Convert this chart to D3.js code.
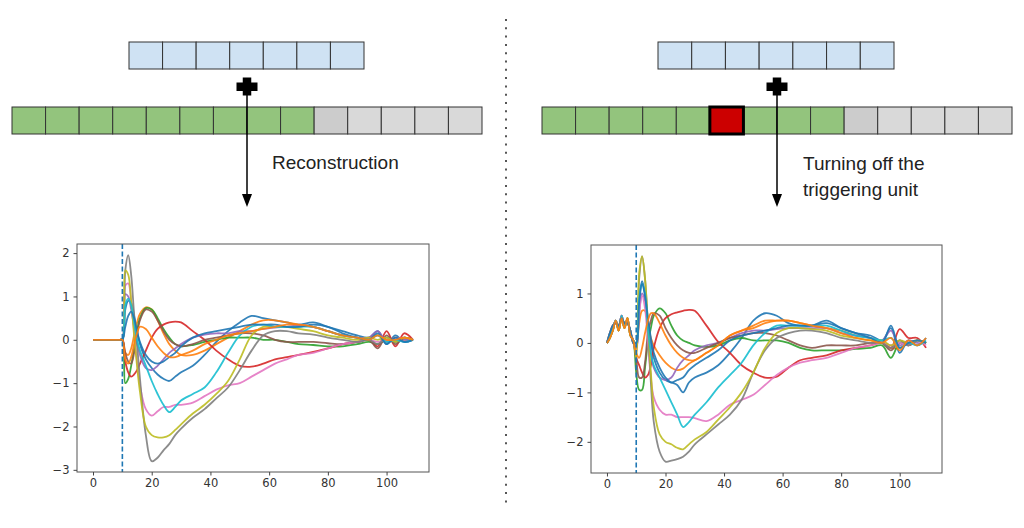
<!DOCTYPE html>
<html><head><meta charset="utf-8">
<script src="https://cdn.jsdelivr.net/npm/d3@7"></script>
<style>
body{margin:0;background:#fff;}
svg{display:block;font-family:"Liberation Sans",Arial,sans-serif;}
</style>
</head><body>
<svg id="c" width="1024" height="528"></svg>
<script>
// ---------- DATA ----------
const seriesColors = ["#1f77b4","#ff7f0e","#2ca02c","#d62728","#9467bd","#8c564b","#e377c2","#7f7f7f","#bcbd22","#17becf","#1f77b4","#ff7f0e"];

const xTicks = [0,20,40,60,80,100];
const reconYTicks = [-3,-2,-1,0,1,2];
const trigYTicks = [-2,-1,0,1];
const triggerX = 10;

// Left chart (Reconstruction) time steps
const reconSteps = [0,9,10,11,12,13,14,15,16,18,20,22,24,26,28,30,34,38,42,46,50,54,58,62,66,70,75,80,85,90,94,97,100,103,106,109];
const reconBlueA  = [0,0,0,0.7,0.9,0.85,0.55,0.2,-0.1,-0.45,-0.65,-0.8,-0.9,-0.95,-0.85,-0.75,-0.6,-0.35,-0.05,0.2,0.4,0.55,0.5,0.45,0.4,0.35,0.4,0.3,0.2,0.1,0.05,0.2,-0.1,0.1,-0.05,0];
const reconOrangeA= [0,0,0,-0.3,-0.35,-0.2,0.1,0.4,0.6,0.75,0.7,0.45,0.15,-0.1,-0.25,-0.35,-0.35,-0.25,-0.1,0.05,0.2,0.35,0.45,0.45,0.4,0.35,0.3,0.2,0.1,0.05,0.05,0.1,-0.05,0.05,0,0];
const reconGreen  = [0,0,0,-1.0,-0.9,-0.6,-0.2,0.2,0.5,0.73,0.7,0.5,0.25,0.05,-0.1,-0.15,-0.12,-0.05,0,0.05,0.05,0.05,0,0,-0.05,-0.1,-0.12,-0.15,-0.15,-0.1,-0.05,-0.1,0,-0.05,0.05,0];
const reconRed    = [0,0,0,-0.5,-0.75,-0.85,-0.8,-0.7,-0.55,-0.25,0.05,0.25,0.35,0.4,0.42,0.4,0.2,0,-0.25,-0.45,-0.6,-0.62,-0.55,-0.45,-0.4,-0.35,-0.28,-0.2,-0.1,-0.05,0,-0.15,0.2,-0.15,0.15,0];
const reconPurple = [0,0,0,1.05,1.0,0.7,0.3,-0.05,-0.35,-0.65,-0.7,-0.6,-0.45,-0.3,-0.2,-0.1,0.05,0.12,0.15,0.15,0.2,0.2,0.25,0.28,0.3,0.33,0.3,0.2,0.1,0.05,0.05,0.2,-0.05,0.05,0,0];
const reconBrown  = [0,0,0,-0.3,-0.5,-0.55,-0.3,0.1,0.45,0.7,0.65,0.45,0.2,0,-0.1,-0.15,-0.1,0,0.05,0.1,0.15,0.15,0.1,0,-0.05,-0.05,-0.05,-0.08,-0.1,-0.05,0,-0.2,0.1,-0.1,0.05,0];
const reconPink   = [0,0,0,1.25,1.3,0.9,0.2,-0.5,-1.05,-1.6,-1.75,-1.65,-1.55,-1.55,-1.5,-1.5,-1.45,-1.3,-1.15,-1.05,-1.0,-0.85,-0.7,-0.55,-0.45,-0.35,-0.3,-0.2,-0.1,-0.05,0,-0.05,0,0,0.05,0];
const reconGray   = [0,0,0,1.6,1.95,1.5,0.6,-0.1,-0.9,-2.2,-2.8,-2.72,-2.55,-2.4,-2.2,-2.05,-1.8,-1.6,-1.35,-1.1,-0.7,-0.25,0.1,0.2,0.2,0.15,0.12,0.05,0,-0.05,0,-0.1,0.05,-0.05,0.05,0];
const reconOlive  = [0,0,0,1.6,1.5,0.9,0.1,-0.6,-1.2,-2.0,-2.2,-2.25,-2.25,-2.2,-2.08,-1.95,-1.7,-1.5,-1.25,-0.95,-0.45,0.1,0.3,0.3,0.3,0.25,0.2,0.1,0.05,0,0.05,0,0.05,-0.05,0.05,0];
const reconCyan   = [0,0,0,0.8,0.95,0.8,0.4,0,-0.25,-0.6,-0.95,-1.25,-1.5,-1.67,-1.55,-1.4,-1.25,-1.1,-0.75,-0.3,0.1,0.3,0.35,0.3,0.3,0.3,0.3,0.2,0.1,0.05,0,0.1,-0.05,0,-0.05,0];
const reconBlueB  = [0,0,0,0.3,0.55,0.65,0.5,0.2,-0.05,-0.35,-0.5,-0.55,-0.5,-0.4,-0.3,-0.15,0.05,0.15,0.2,0.25,0.3,0.35,0.35,0.35,0.3,0.3,0.35,0.3,0.15,0.05,0,0.15,-0.1,0.05,-0.05,0];
const reconOrangeB= [0,0,0,-0.45,-0.55,-0.4,-0.1,0.15,0.3,0.25,0.05,-0.15,-0.3,-0.4,-0.4,-0.35,-0.25,-0.1,0,0.1,0.15,0.2,0.25,0.3,0.35,0.35,0.3,0.2,0.1,0.05,0,0.1,0,0,0.05,0];
const reconSeries = [reconBlueA,reconOrangeA,reconGreen,reconRed,reconPurple,reconBrown,reconPink,reconGray,reconOlive,reconCyan,reconBlueB,reconOrangeB];

// Right chart (Turning off the triggering unit) time steps
const trigSteps = [0,1,2,3,4,5,6,7,8,9,10,11,12,13,14,15,16,18,20,22,24,26,28,30,34,38,42,46,50,54,58,62,66,70,75,80,85,90,94,97,100,103,106,109];
const preA = [0,0.15,0.3,0.45,0.3,0.55,0.35,0.45,0.2,0.05];
const preB = [0,0.2,0.35,0.4,0.35,0.5,0.4,0.4,0.25,0.0];
const preC = [0,0.1,0.25,0.45,0.25,0.5,0.3,0.5,0.15,0.05];
const trigBlueA   = [...preA, 0,0.9,1.25,1.0,0.4,0,-0.3, -0.6,-0.75,-0.8,-0.85,-1.0,-0.8,-0.7, -0.6,-0.45,-0.2,0.1,0.45,0.6,0.55,0.4,0.35,0.35, 0.45,0.3,0.2,0.15,0.05,0.3,-0.2,0.05,-0.05,0.1];
const trigOrangeA = [...preB, 0,0.4,0.65,0.65,0.35,0.1,-0.05, -0.25,-0.4,-0.5,-0.55,-0.52,-0.42,-0.35, -0.2,-0.05,0.15,0.25,0.35,0.45,0.45,0.45,0.4,0.35, 0.3,0.25,0.15,0.1,0,-0.1,-0.1,0,0.05,0];
const trigGreen   = [...preC, -0.6,-0.95,-0.95,-0.5,0,0.3,0.55, 0.7,0.6,0.35,0.15,0.05,0,-0.05, -0.08,-0.05,0.05,0.1,0.05,0.05,0.05,0,-0.1,-0.15, -0.15,-0.15,-0.12,-0.1,-0.05,-0.3,0,-0.05,0.05,0];
const trigRed     = [...preA, -0.3,-0.45,-0.6,-0.7,-0.65,-0.45,-0.1, 0.3,0.5,0.58,0.62,0.65,0.67,0.65, 0.35,0.02,-0.2,-0.45,-0.6,-0.7,-0.68,-0.5,-0.35,-0.3, -0.25,-0.15,-0.1,-0.05,0,-0.1,0.28,0.1,0.1,-0.1];
const trigPurple  = [...preB, -0.1,0.6,1.0,0.85,0.3,-0.2,-0.5, -0.7,-0.75,-0.7,-0.5,-0.35,-0.25,-0.15, -0.05,0,0.1,0.2,0.25,0.25,0.28,0.3,0.3,0.3, 0.3,0.2,0.15,0.1,0.05,0.25,-0.05,0.05,0,0];
const trigBrown   = [...preC, -0.3,-0.7,-0.7,-0.4,0.2,0.45,0.6, 0.55,0.3,0.1,-0.05,-0.15,-0.2,-0.2, -0.1,0,0.1,0.15,0.2,0.2,0.15,0.05,-0.05,-0.1, -0.05,-0.05,-0.05,0,0,-0.15,0.05,-0.05,0.05,0];
const trigPink    = [...preA, -0.2,0.6,0.95,0.7,0,-0.7,-1.1, -1.35,-1.45,-1.45,-1.5,-1.5,-1.5,-1.52, -1.58,-1.45,-1.25,-1.15,-1.05,-0.85,-0.65,-0.5,-0.4,-0.35, -0.3,-0.2,-0.1,-0.05,0,-0.05,0,-0.05,0.05,-0.05];
const trigGray    = [...preB, -0.1,1.3,1.75,1.3,0.3,-0.8,-1.6, -2.2,-2.4,-2.38,-2.35,-2.3,-2.2,-2.05, -1.85,-1.65,-1.45,-1.15,-0.6,-0.15,0.1,0.2,0.25,0.25, 0.2,0.1,0.05,0,0,-0.1,0.05,-0.05,0.05,0];
const trigOlive   = [...preC, -0.3,1.4,1.75,1.3,0.4,-0.6,-1.3, -1.85,-2.0,-2.05,-2.12,-2.15,-2.05,-1.95, -1.8,-1.55,-1.3,-1.0,-0.6,-0.1,0.2,0.3,0.3,0.28, 0.25,0.15,0.1,0.05,0.05,-0.05,0.05,0,0.05,0];
const trigCyan    = [...preA, 0,0.9,1.2,1.0,0.3,-0.2,-0.45, -0.7,-0.95,-1.2,-1.45,-1.7,-1.6,-1.45, -1.2,-0.9,-0.65,-0.4,-0.05,0.2,0.35,0.35,0.35,0.35, 0.35,0.25,0.15,0.1,0.05,0.1,-0.1,0,-0.05,0.05];
const trigBlueB   = [...preB, 0,0.8,1.2,0.95,0.5,0.1,-0.2, -0.5,-0.7,-0.8,-0.75,-0.7,-0.55,-0.45, -0.3,-0.15,0.05,0.15,0.2,0.25,0.3,0.35,0.35,0.35, 0.4,0.3,0.2,0.1,0,0.35,-0.1,0,0.05,0];
const trigOrangeB = [...preC, -0.2,-0.3,-0.1,0.2,0.45,0.6,0.6, 0.4,0.15,-0.05,-0.2,-0.3,-0.35,-0.35, -0.2,-0.05,0.15,0.25,0.3,0.4,0.45,0.45,0.4,0.35, 0.3,0.2,0.1,0.05,0,0.1,-0.15,0.05,-0.05,0.1];
const trigSeries = [trigBlueA,trigOrangeA,trigGreen,trigRed,trigPurple,trigBrown,trigPink,trigGray,trigOlive,trigCyan,trigBlueB,trigOrangeB];

// Diagram cells
const queryCells = ["q","q","q","q","q","q","q"];
const reconCells = ["on","on","on","on","on","on","on","on","on","pad","empty","empty","empty","empty"];
const trigCells  = ["on","on","on","on","on","off","on","on","on","pad","empty","empty","empty","empty"];
const cellFill = {q:"#cfe2f3", on:"#93c47d", off:"#cc0000", pad:"#cccccc", empty:"#d9d9d9"};

// ---------- DRAW ----------
const svg = d3.select("#c");

svg.append("line").attr("x1",506).attr("x2",506).attr("y1",19).attr("y2",503)
  .attr("stroke","#555").attr("stroke-width",2).attr("stroke-dasharray","2,6.3");

function cellRow(cells, x0, x1, y, h){
  const xs = d3.scaleBand().domain(d3.range(cells.length)).range([x0,x1]).padding(0);
  const g = svg.append("g");
  g.selectAll("rect").data(cells).join("rect")
    .attr("x",(d,i)=>xs(i)).attr("y",y).attr("width",xs.bandwidth()).attr("height",h)
    .attr("fill",d=>cellFill[d]).attr("stroke","#333").attr("stroke-width",1);
  cells.forEach((d,i)=>{
    if(d==="off"){
      g.append("rect").attr("x",xs(i)).attr("y",y).attr("width",xs.bandwidth()).attr("height",h)
       .attr("fill",cellFill[d]).attr("stroke","#000").attr("stroke-width",3);
    }
  });
}
function plusArrow(cx){
  const g = svg.append("g").attr("fill","#000");
  g.append("rect").attr("x",cx-10.5).attr("y",82.5).attr("width",21).attr("height",8.5);
  g.append("rect").attr("x",cx-4.25).attr("y",77.5).attr("width",8.5).attr("height",18);
  g.append("line").attr("x1",cx).attr("x2",cx).attr("y1",93).attr("y2",196)
   .attr("stroke","#000").attr("stroke-width",1.5);
  g.append("path").attr("d",`M${cx-5},194 L${cx+5},194 L${cx},207 Z`);
}

cellRow(queryCells,129,364,42,27);
cellRow(reconCells,12,482,107,27);
plusArrow(247);
svg.append("text").attr("x",272).attr("y",169).attr("font-size",19).attr("fill","#222").text("Reconstruction");

cellRow(queryCells,658,894,42,27);
cellRow(trigCells,542,1012,107,27);
plusArrow(777);
svg.append("text").attr("x",803).attr("y",170).attr("font-size",19).attr("fill","#222").text("Turning off the");
svg.append("text").attr("x",803).attr("y",196).attr("font-size",19).attr("fill","#222").text("triggering unit");

function chart(opts){
  const {left,top,width,height,yDomain,yTicks,steps,series} = opts;
  const x = d3.scaleLinear().domain([-5.45,114.45]).range([left,left+width]);
  const y = d3.scaleLinear().domain(yDomain).range([top+height,top]);
  const g = svg.append("g");
  const clipId = "clip"+left;
  g.append("clipPath").attr("id",clipId).append("rect")
    .attr("x",left).attr("y",top).attr("width",width).attr("height",height);
  const lines = g.append("g").attr("clip-path",`url(#${clipId})`);
  const line = d3.line().x(d=>x(d[0])).y(d=>y(d[1])).curve(d3.curveCatmullRom.alpha(0.5));
  series.forEach((s,i)=>{
    lines.append("path").attr("d",line(steps.map((t,j)=>[t,s[j]])))
      .attr("fill","none").attr("stroke",seriesColors[i]).attr("stroke-width",1.8)
      .attr("stroke-linejoin","round").attr("opacity",0.9);
  });
  lines.append("line").attr("x1",x(triggerX)).attr("x2",x(triggerX)).attr("y1",top).attr("y2",top+height)
    .attr("stroke","#1f77b4").attr("stroke-width",1.6).attr("stroke-dasharray","5,2.5");
  g.append("rect").attr("x",left).attr("y",top).attr("width",width).attr("height",height)
    .attr("fill","none").attr("stroke","#555").attr("stroke-width",1);
  const fmt = d3.format("d");
  const ax = g.append("g").attr("transform",`translate(0,${top+height})`)
    .call(d3.axisBottom(x).tickValues(xTicks).tickFormat(fmt).tickSize(3.5).tickSizeOuter(0).tickPadding(3));
  const ay = g.append("g").attr("transform",`translate(${left},0)`)
    .call(d3.axisLeft(y).tickValues(yTicks).tickFormat(fmt).tickSize(3.5).tickSizeOuter(0).tickPadding(4));
  [ax,ay].forEach(a=>{
    a.select(".domain").remove();
    a.selectAll("line").attr("stroke","#444");
    a.selectAll("text").attr("font-family","DejaVu Sans").attr("font-size",11.5).attr("fill","#333");
  });
}

chart({left:77,top:244,width:352,height:228,yDomain:[-3.05,2.21],yTicks:reconYTicks,steps:reconSteps,series:reconSeries});
chart({left:591,top:245,width:351,height:228,yDomain:[-2.63,1.98],yTicks:trigYTicks,steps:trigSteps,series:trigSeries});
</script>
</body></html>
